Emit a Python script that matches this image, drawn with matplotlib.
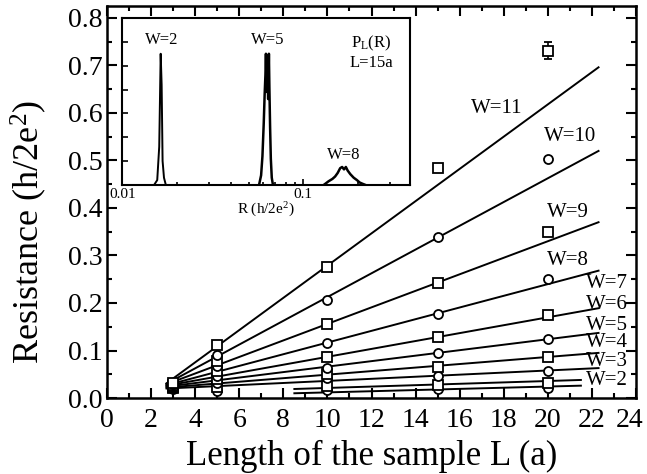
import numpy as np
import matplotlib
matplotlib.use("Agg")
import matplotlib.pyplot as plt
import matplotlib.transforms as mtransforms
from matplotlib.ticker import MultipleLocator, FixedLocator, NullFormatter

plt.rcParams['font.family'] = ['Liberation Serif', 'DejaVu Serif']
plt.rcParams['mathtext.fontset'] = 'custom'
plt.rcParams['mathtext.rm'] = 'Liberation Serif'

# sample lengths where resistance was computed
L_points = [3, 5, 10, 15, 20]

# mean resistance for each width W (h/2e^2)
r_w2 = [0.020, 0.015, 0.016, 0.019, 0.021]
r_w3 = [0.021, 0.023, 0.026, 0.028, 0.031]
r_w4 = [0.022, 0.031, 0.042, 0.046, 0.057]
r_w5 = [0.023, 0.039, 0.050, 0.066, 0.086]
r_w6 = [0.025, 0.047, 0.064, 0.095, 0.125]
r_w7 = [0.026, 0.057, 0.086, 0.128, 0.175]
r_w8 = [0.027, 0.067, 0.116, 0.177, 0.250]
r_w9 = [0.028, 0.077, 0.155, 0.243, 0.350]
r_w10 = [0.029, 0.091, 0.206, 0.338, 0.504]
r_w11 = [0.031, 0.111, 0.276, 0.484, 0.731]
err_w11 = [0.0, 0.0, 0.0, 0.0, 0.018]

widths = [2, 3, 4, 5, 6, 7, 8, 9, 10, 11]

# linear fits (start / end of each fitted line)
fit_L0 = [8.5, 8.5, 2.7, 2.7, 2.7, 2.7, 2.7, 2.7, 2.7, 2.7]
fit_L1 = [21.5, 21.5, 22.3, 22.3, 22.3, 22.3, 22.3, 22.3, 22.3, 22.3]
fit_R0 = [0.010, 0.019, 0.020, 0.022, 0.024, 0.026, 0.027, 0.029, 0.030, 0.031]
fit_R1 = [0.026, 0.038, 0.063, 0.095, 0.137, 0.189, 0.268, 0.370, 0.520, 0.696]

# label positions for the W= annotations
lab_L = [22.7, 22.7, 22.7, 22.7, 22.7, 22.7, 20.9, 20.9, 21.0, 17.7]
lab_R = [0.036, 0.076, 0.116, 0.153, 0.196, 0.242, 0.290, 0.391, 0.550, 0.610]

x_ticks = [0, 2, 4, 6, 8, 10, 12, 14, 16, 18, 20, 22, 24]
y_ticks = [0.0, 0.1, 0.2, 0.3, 0.4, 0.5, 0.6, 0.7, 0.8]

# inset: distribution P_L(R) at L=15a
w2_R = [0.0150, 0.0156, 0.0160, 0.0163, 0.0165, 0.0167, 0.0170, 0.0174]
w2_P = [0, 0.2, 1.6, 5.5, 4.2, 1.0, 0.3, 0]
w5_R = [0.0570, 0.0585, 0.0595, 0.0605, 0.0612, 0.0618, 0.0622, 0.0628,
        0.0634, 0.0640, 0.0646, 0.0650, 0.0656, 0.0662, 0.0670, 0.0680]
w5_P = [0, 0.4, 1.2, 2.6, 3.8, 4.6, 5.5, 3.9, 4.8, 3.6, 5.5, 4.1, 2.4, 1.1, 0.3, 0]
w8_R = [0.130, 0.138, 0.145, 0.150, 0.155, 0.160, 0.164, 0.168,
        0.172, 0.176, 0.182, 0.190, 0.198, 0.205, 0.212, 0.220]
w8_P = [0, 0.15, 0.25, 0.35, 0.5, 0.7, 0.75, 0.65, 0.75, 0.6, 0.45, 0.3, 0.2, 0.1, 0.05, 0]

r_all = [r_w2, r_w3, r_w4, r_w5, r_w6, r_w7, r_w8, r_w9, r_w10, r_w11]

fig = plt.figure(figsize=(6.47, 4.74), dpi=100)
ax = fig.add_axes([0.1654, 0.1603, 0.8176, 0.827])

for i, w in enumerate(widths):
    ax.plot([fit_L0[i], fit_L1[i]], [fit_R0[i], fit_R1[i]], color='black', lw=1.4)
    mk = 's' if w % 2 == 1 else 'o'
    yerr = err_w11 if w == 11 else None
    ax.errorbar(L_points, r_all[i], yerr=yerr, fmt=mk, ms=6.5, mfc='white',
                mec='black', mew=1.3, ecolor='black', elinewidth=1.2, capsize=3,
                zorder=3)
    ax.text(lab_L[i], lab_R[i], 'W=%d' % w, fontsize=15, ha='center', va='center')

ax.set_xticks(x_ticks)
ax.set_xticklabels([str(v) for v in x_ticks])
ax.set_yticks(y_ticks)
ax.set_yticklabels(['%.1f' % v for v in y_ticks])
ax.xaxis.set_minor_locator(MultipleLocator(1))
ax.yaxis.set_minor_locator(MultipleLocator(0.05))
ax.set_xlim(0, 24)
ax.set_ylim(0, 0.825)
ax.tick_params(which='both', direction='in', top=True, right=True, width=1.5, labelsize=20)
ax.tick_params(which='major', length=7)
ax.tick_params(which='minor', length=3.5)
ax.tick_params(axis='y', pad=3)
ax.tick_params(axis='x', pad=7)
for s in ax.spines.values():
    s.set_linewidth(1.8)
ax.set_xlabel('Length of the sample L (a)', fontsize=25, labelpad=5)
ax.set_ylabel('Resistance (h/2e$\\mathregular{^2}$)', fontsize=26)
ax.yaxis.set_label_coords(-0.110, 0.423)

# keep the "24" tick label inside the figure
shift = mtransforms.ScaledTranslation(-6 / 100, 0, fig.dpi_scale_trans)
for lab in ax.get_xticklabels():
    if lab.get_text() == '24':
        lab.set_transform(lab.get_transform() + shift)

# inset
ins = fig.add_axes([0.189, 0.610, 0.445, 0.352])
ins.plot(w2_R, w2_P, color='black', lw=1.4)
ins.plot(w5_R, w5_P, color='black', lw=1.8)
ins.plot(w8_R, w8_P, color='black', lw=1.8)
ins.set_xscale('log')
ins.set_xlim(0.01, 0.39)
ins.set_ylim(0, 7)
ins.yaxis.set_major_locator(MultipleLocator(1))
ins.yaxis.set_major_formatter(NullFormatter())
ins.xaxis.set_major_locator(FixedLocator([0.01, 0.1]))
ins.set_xticklabels(['0.01', '0.1'])
ins.xaxis.set_minor_formatter(NullFormatter())
ins.tick_params(which='both', direction='in', labelsize=11, width=1.2, pad=2)
ins.tick_params(which='major', length=4)
ins.tick_params(which='minor', length=2)
for s in ins.spines.values():
    s.set_linewidth(1.5)
ins.set_xlabel('R (h/2e$\\mathregular{^2}$)', fontsize=11, labelpad=0)
ins.text(0.0165, 6.08, 'W=2', fontsize=12, ha='center', va='center')
ins.text(0.064, 6.08, 'W=5', fontsize=12, ha='center', va='center')
ins.text(0.168, 1.26, 'W=8', fontsize=12, ha='center', va='center')
ins.text(0.238, 5.95, 'P$\\mathregular{_L}$(R)', fontsize=12, ha='center', va='center')
ins.text(0.238, 5.10, 'L=15a', fontsize=12, ha='center', va='center')

fig.savefig('out.png', dpi=100)
